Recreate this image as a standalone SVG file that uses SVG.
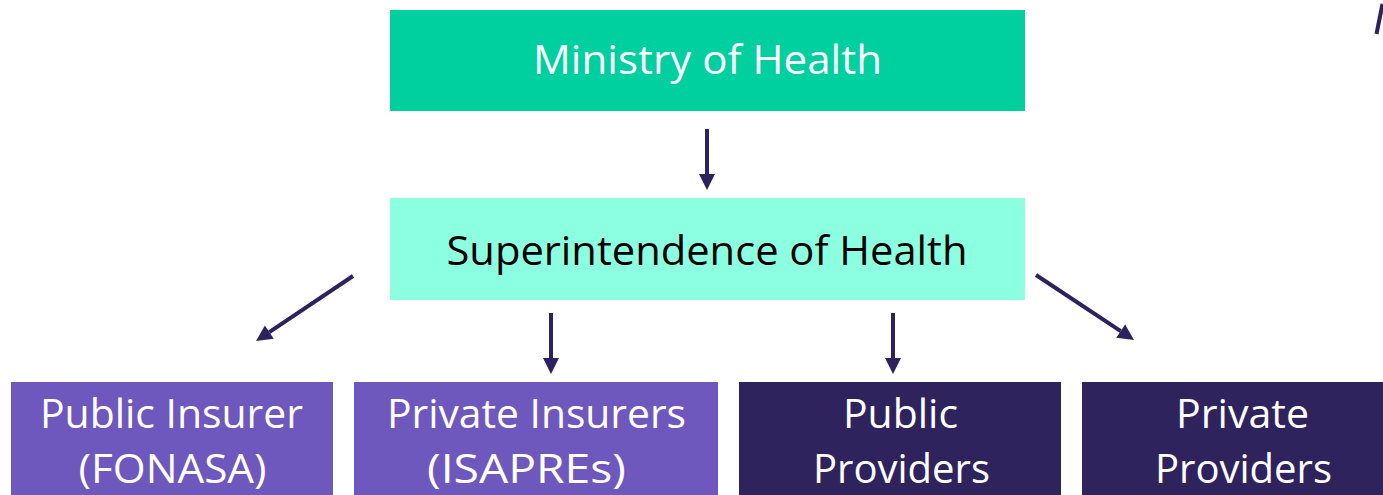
<svg xmlns="http://www.w3.org/2000/svg" width="1383" height="495" viewBox="0 0 1383 495">
  <style>
    .lbl { font-family: "Open Sans", "Liberation Sans", sans-serif; font-size: 40px; text-anchor: middle; }
    .light { fill: #ffffff; }
    .dark { fill: #000000; }
    .conn { stroke: #2e2160; stroke-width: 4; fill: none; marker-end: url(#head); }
  </style>
  <defs>
    <marker id="head" markerUnits="strokeWidth" markerWidth="4" markerHeight="4" refX="0" refY="2" orient="auto" overflow="visible">
      <path d="M0,0 L4,2 L0,4 Z" fill="#2e2160"/>
    </marker>
  </defs>
  <rect width="1383" height="495" fill="#ffffff"/>

  <g id="ministry">
    <rect x="390" y="10" width="635" height="101" fill="#00d09f"/>
    <text class="lbl light" x="707.5" y="74" textLength="349" lengthAdjust="spacingAndGlyphs">Ministry of Health</text>
  </g>

  <g id="superintendence">
    <rect x="390" y="198" width="635" height="102" fill="#8bffe0"/>
    <text class="lbl dark" x="707" y="265" textLength="521" lengthAdjust="spacingAndGlyphs">Superintendence of Health</text>
  </g>

  <g id="public-insurer">
    <rect x="11" y="382" width="322" height="113" fill="#6e58be"/>
    <text class="lbl light" x="171.5" y="428" textLength="263" lengthAdjust="spacingAndGlyphs">Public Insurer</text>
    <text class="lbl light" x="172.5" y="483" textLength="188" lengthAdjust="spacingAndGlyphs">(FONASA)</text>
  </g>

  <g id="private-insurers">
    <rect x="354" y="382" width="364" height="113" fill="#6e58be"/>
    <text class="lbl light" x="536.5" y="428" textLength="299" lengthAdjust="spacingAndGlyphs">Private Insurers</text>
    <text class="lbl light" x="526.5" y="483" textLength="199" lengthAdjust="spacingAndGlyphs">(ISAPREs)</text>
  </g>

  <g id="public-providers">
    <rect x="739" y="382" width="322" height="113" fill="#2f235e"/>
    <text class="lbl light" x="900.5" y="428" textLength="115" lengthAdjust="spacingAndGlyphs">Public</text>
    <text class="lbl light" x="901.5" y="483" textLength="177" lengthAdjust="spacingAndGlyphs">Providers</text>
  </g>

  <g id="private-providers">
    <rect x="1082" y="382" width="322" height="113" fill="#2f235e"/>
    <text class="lbl light" x="1242.5" y="428" textLength="133" lengthAdjust="spacingAndGlyphs">Private</text>
    <text class="lbl light" x="1243.5" y="483" textLength="177" lengthAdjust="spacingAndGlyphs">Providers</text>
  </g>

  <g id="connectors">
    <line class="conn" x1="707" y1="129" x2="707" y2="174"/>
    <line class="conn" x1="353" y1="276" x2="269.3" y2="332.1"/>
    <line class="conn" x1="551" y1="313" x2="551" y2="358"/>
    <line class="conn" x1="893" y1="313" x2="893" y2="358"/>
    <line class="conn" x1="1036" y1="275" x2="1120.7" y2="331.2"/>
  </g>

  <!-- stroke at the top-right edge -->
  <line x1="1382.5" y1="4" x2="1376.5" y2="34" stroke="#2e2160" stroke-width="4"/>
</svg>
